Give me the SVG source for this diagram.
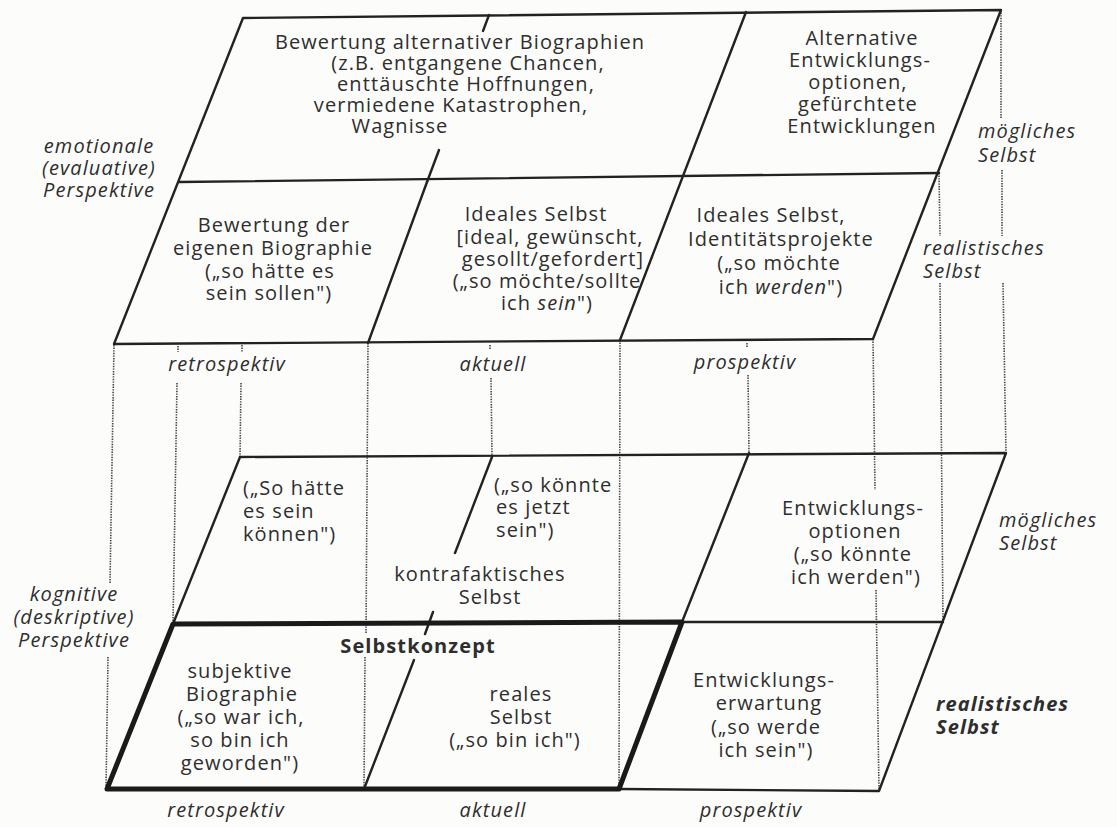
<svg xmlns="http://www.w3.org/2000/svg" width="1117" height="827" viewBox="0 0 1117 827">
<style>
  .ln{stroke:#222;stroke-width:2.4;fill:none;stroke-linecap:round;stroke-linejoin:round}
  .tk{stroke:#1a1a1a;stroke-width:5;fill:none;stroke-linecap:round;stroke-linejoin:round}
  .dt{stroke:#444;stroke-width:1.6;stroke-dasharray:1.4 1.2;fill:none}
  text{font-family:"Open Sans","Noto Sans","Liberation Sans",sans-serif;font-size:20px;fill:#2e2e2e;letter-spacing:1.1px}
  .c{text-anchor:middle}
  .i{font-style:italic}
  .b{font-weight:bold}
</style>
<rect x="0" y="0" width="1117" height="827" fill="#fcfcfb"/>

<g id="connectors">
  <path class="dt" d="M114,345 L110,583 M108,657 L106,789"/>
  <path class="dt" d="M178,346 L178,352 M177,383 L173,624"/>
  <path class="dt" d="M242,345 L242,352 M241,383 L240,457"/>
  <path class="dt" d="M368,343 L366,634 M365,657 L364,789"/>
  <path class="dt" d="M490,345 L490,350 M491,378 L492,457"/>
  <path class="dt" d="M620,340 L619,789"/>
  <path class="dt" d="M747,343 L747,348 M748,375 L749,453"/>
  <path class="dt" d="M873,339 L875,490 M876,590 L879,791"/>
  <path class="dt" d="M939,173 L940,236 M940,283 L943,622"/>
  <path class="dt" d="M1001,10 L1001,118 M1002,170 L1002,236 M1003,283 L1006,453"/>
</g>

<g id="plane-emotional">
  <path class="ln" d="M243,18 L1001,10 L873,339 L114,344 Z"/>
  <path class="ln" d="M179,182 L939,173"/>
  <path class="ln" d="M746,12 L620,340"/>
  <path class="ln" d="M427,182 L368,343"/>
  <path class="ln" d="M489,15 L483,31 M439,150 L427,182"/>
</g>

<g id="plane-cognitive">
  <path class="ln" d="M240,457 L1006,453 L879,791 L619,789"/>
  <path class="ln" d="M240,457 L173,624"/>
  <path class="ln" d="M682,622 L943,622"/>
  <path class="ln" d="M749,453 L682,622"/>
  <path class="ln" d="M492,457 L455,553 M433,612 L425,634 M414,660 L364,789"/>
  <path class="tk" d="M173,624 L682,622 L619,789 L107,789 Z"/>
</g>

<g id="alt-biographien">
  <text class="c"><tspan x="460" y="49">Bewertung alternativer Biographien</tspan><tspan x="468" y="70">(z.B. entgangene Chancen,</tspan><tspan x="466" y="91">enttäuschte Hoffnungen,</tspan><tspan x="451" y="112">vermiedene Katastrophen,</tspan><tspan x="400" y="133">Wagnisse</tspan></text>
</g>
<g id="alt-entwicklung">
  <text class="c"><tspan x="862" y="45">Alternative</tspan><tspan x="860" y="67">Entwicklungs-</tspan><tspan x="858" y="89">optionen,</tspan><tspan x="858" y="111">gefürchtete</tspan><tspan x="862" y="133">Entwicklungen</tspan></text>
</g>
<g id="bewertung-eigene">
  <text class="c"><tspan x="274" y="232">Bewertung der</tspan><tspan x="273" y="255">eigenen Biographie</tspan><tspan x="270" y="278">(„so hätte es</tspan><tspan x="269" y="300">sein sollen")</tspan></text>
</g>
<g id="ideales-selbst">
  <text class="c"><tspan x="536" y="221">Ideales Selbst</tspan><tspan x="550" y="244">[ideal, gewünscht,</tspan><tspan x="553" y="266">gesollt/gefordert]</tspan><tspan x="547" y="288">(„so möchte/sollte</tspan><tspan x="547" y="310">ich <tspan class="i">sein</tspan>")</tspan></text>
</g>
<g id="identitaetsprojekte">
  <text class="c"><tspan x="771" y="222">Ideales Selbst,</tspan><tspan x="781" y="246">Identitätsprojekte</tspan><tspan x="779" y="270">(„so möchte</tspan><tspan x="781" y="294">ich <tspan class="i">werden</tspan>")</tspan></text>
</g>

<g id="label-emotional">
  <text class="c i"><tspan x="99" y="153">emotionale</tspan><tspan x="99" y="175">(evaluative)</tspan><tspan x="99" y="197">Perspektive</tspan></text>
</g>
<g id="label-moeglich-top">
  <text class="i"><tspan x="978" y="138">mögliches</tspan><tspan x="978" y="162">Selbst</tspan></text>
</g>
<g id="label-realistisch-top">
  <text class="i"><tspan x="923" y="255">realistisches</tspan><tspan x="923" y="278">Selbst</tspan></text>
</g>
<g id="axis-top">
  <text class="c i" x="227" y="371">retrospektiv</text>
  <text class="c i" x="493" y="371">aktuell</text>
  <text class="c i" x="745" y="369">prospektiv</text>
</g>

<g id="so-haette-koennen">
  <text><tspan x="243" y="495">(„So hätte</tspan><tspan x="243" y="518">es sein</tspan><tspan x="243" y="541">können")</tspan></text>
</g>
<g id="so-koennte-jetzt">
  <text><tspan x="494" y="492">(„so könnte</tspan><tspan x="496" y="514">es jetzt</tspan><tspan x="496" y="537">sein")</tspan></text>
</g>
<g id="kontrafaktisch">
  <text class="c"><tspan x="480" y="581">kontrafaktisches</tspan><tspan x="490" y="604">Selbst</tspan></text>
</g>
<g id="entwicklungsoptionen">
  <text class="c"><tspan x="853" y="515">Entwicklungs-</tspan><tspan x="855" y="538">optionen</tspan><tspan x="853" y="561">(„so könnte</tspan><tspan x="856" y="584">ich werden")</tspan></text>
</g>
<g id="label-moeglich-bottom">
  <text class="i"><tspan x="999" y="527">mögliches</tspan><tspan x="999" y="550">Selbst</tspan></text>
</g>
<g id="label-kognitiv">
  <text class="c i"><tspan x="74" y="601">kognitive</tspan><tspan x="74" y="624">(deskriptive)</tspan><tspan x="74" y="647">Perspektive</tspan></text>
</g>

<g id="selbstkonzept">
  <text class="c b" x="418" y="653">Selbstkonzept</text>
</g>
<g id="subjektive-biographie">
  <text class="c"><tspan x="240" y="678">subjektive</tspan><tspan x="242" y="701">Biographie</tspan><tspan x="241" y="724">(„so war ich,</tspan><tspan x="240" y="747">so bin ich</tspan><tspan x="240" y="770">geworden")</tspan></text>
</g>
<g id="reales-selbst">
  <text class="c"><tspan x="521" y="701">reales</tspan><tspan x="521" y="724">Selbst</tspan><tspan x="515" y="747">(„so bin ich")</tspan></text>
</g>
<g id="entwicklungserwartung">
  <text class="c"><tspan x="764" y="687">Entwicklungs-</tspan><tspan x="769" y="710">erwartung</tspan><tspan x="766" y="734">(„so werde</tspan><tspan x="766" y="757">ich sein")</tspan></text>
</g>
<g id="label-realistisch-bottom">
  <text class="i b"><tspan x="936" y="711">realistisches</tspan><tspan x="936" y="734">Selbst</tspan></text>
</g>
<g id="axis-bottom">
  <text class="c i" x="226" y="817">retrospektiv</text>
  <text class="c i" x="493" y="817">aktuell</text>
  <text class="c i" x="751" y="817">prospektiv</text>
</g>
</svg>
